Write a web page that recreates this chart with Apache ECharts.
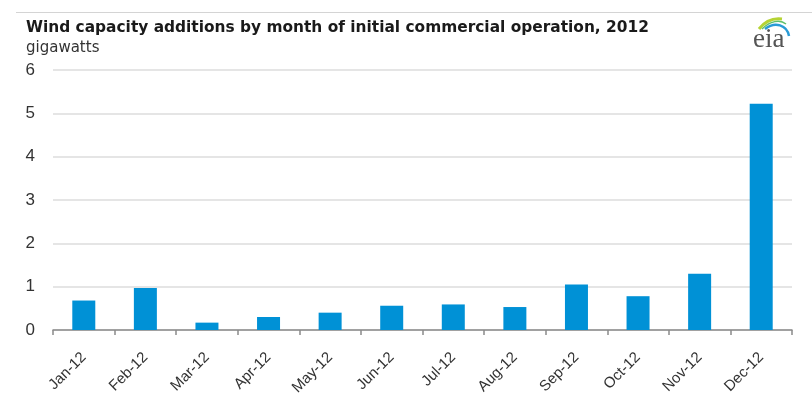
<!DOCTYPE html>
<html><head><meta charset="utf-8">
<script src="https://cdn.jsdelivr.net/npm/echarts@6/dist/echarts.min.js"></script>
<style>html,body{margin:0;padding:0;background:#fff}#c{width:812px;height:411px}</style>
</head><body><div id="c"></div>
<script>
const categories = ['Jan-12','Feb-12','Mar-12','Apr-12','May-12','Jun-12','Jul-12','Aug-12','Sep-12','Oct-12','Nov-12','Dec-12'];
const capacityGW = [0.68, 0.97, 0.17, 0.30, 0.40, 0.56, 0.59, 0.53, 1.05, 0.78, 1.30, 5.22];
const titleText = 'Wind capacity additions by month of initial commercial operation, 2012';
const unitText = 'gigawatts';

const chart = echarts.init(document.getElementById('c'), null, {renderer:'canvas'});
chart.setOption({
  animation:false,
  backgroundColor:'#fff',
  title:[
    {text:titleText, left:26, top:20, padding:0, textStyle:{fontFamily:'DejaVu Sans, sans-serif', fontSize:15.4, fontWeight:'bold', color:'#1a1a1a'}},
    {text:unitText, left:26, top:41, padding:0, textStyle:{fontFamily:'DejaVu Sans, sans-serif', fontSize:15, fontWeight:'normal', color:'#333'}}
  ],
  graphic:[
    {type:'line', shape:{x1:16,y1:12.5,x2:812,y2:12.5}, style:{stroke:'#d4d4d4', lineWidth:1}},
    {type:'bezierCurve', shape:{x1:759,y1:29,cpx1:766,cpy1:20,x2:782,y2:19,cpx2:774,cpy2:18}, style:{stroke:'#b5d334', lineWidth:3, fill:null}},
    {type:'bezierCurve', shape:{x1:765,y1:29,cpx1:775,cpy1:21,x2:789,y2:36,cpx2:787,cpy2:25}, style:{stroke:'#2a9bd6', lineWidth:2.5, fill:null}},
    {type:'bezierCurve', shape:{x1:762,y1:29,cpx1:770,cpy1:21,x2:786,y2:24,cpx2:780,cpy2:19}, style:{stroke:'#5fbf6a', lineWidth:1.5, fill:null}},
    {type:'text', left:753, top:26, style:{text:'eia', font:'27px "Liberation Serif", "DejaVu Serif", serif', fill:'#555'}}
  ],
  grid:{left:53, right:20, top:70, bottom:81, containLabel:false},
  xAxis:{
    type:'category', data:categories, boundaryGap:true,
    axisLine:{lineStyle:{color:'#8a8a8a', width:1.5}},
    axisTick:{show:true, alignWithLabel:false, length:5, lineStyle:{color:'#8a8a8a', width:1.5}},
    axisLabel:{rotate:45, fontSize:15, color:'#333', fontFamily:'Liberation Sans, Arial, sans-serif', margin:25, interval:0},
    splitLine:{show:false}
  },
  yAxis:{
    type:'value', min:0, max:6, interval:1,
    axisLine:{show:false}, axisTick:{show:false},
    axisLabel:{fontSize:17, color:'#333', fontFamily:'Liberation Sans, Arial, sans-serif', margin:18},
    splitLine:{lineStyle:{color:'#dcdcdc', width:1.5}}
  },
  series:[{
    type:'bar', data:capacityGW, barWidth:23,
    itemStyle:{color:'#0091d6'}
  }]
});
</script></body></html>
